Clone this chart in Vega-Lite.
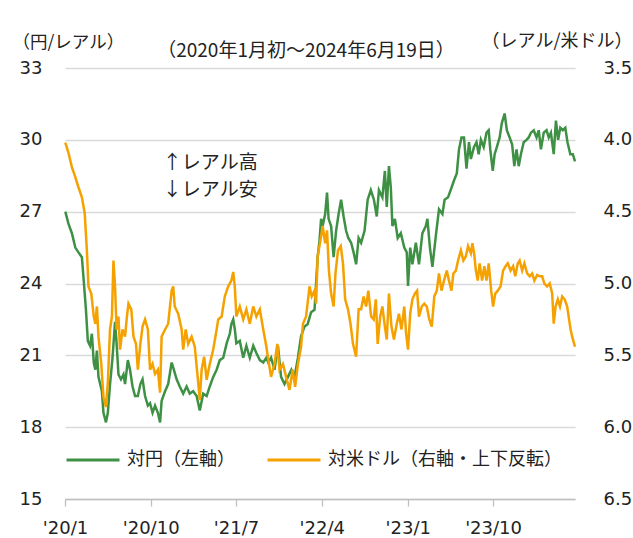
{
"$schema": "https://vega.github.io/schema/vega-lite/v6.json",
"width": 510, "height": 431,
"autosize": {"type": "none"},
"padding": {"left": 65, "top": 68, "right": 58, "bottom": 39},
"background": "white",
"config": {"view": {"stroke": null}, "font": "DejaVu Sans", "axis": {"labelFont": "DejaVu Sans", "labelColor": "#222222", "titleFont": "Noto Sans CJK JP", "titleFontWeight": "normal", "titleColor": "#222222"}},
"title": {"text": "（2020年1月初～2024年6月19日）", "font": "Noto Sans CJK JP", "fontSize": 19, "fontWeight": "normal", "color": "#222222", "anchor": "middle", "frame": "group", "dx": -14, "dy": 36, "offset": 7},
"datasets": {
"jpy": [
{"d":"2020-01-02","v":27.0},{"d":"2020-01-12","v":26.5},{"d":"2020-01-23","v":26.1},{"d":"2020-02-03","v":25.5},{"d":"2020-02-13","v":25.3},{"d":"2020-02-24","v":25.1},{"d":"2020-03-01","v":24.1},{"d":"2020-03-08","v":22.9},{"d":"2020-03-14","v":21.6},{"d":"2020-03-21","v":21.4},{"d":"2020-03-27","v":21.9},{"d":"2020-04-02","v":20.7},{"d":"2020-04-07","v":20.4},{"d":"2020-04-12","v":21.2},{"d":"2020-04-17","v":20.1},{"d":"2020-04-28","v":19.5},{"d":"2020-05-03","v":18.6},{"d":"2020-05-11","v":18.2},{"d":"2020-05-17","v":18.6},{"d":"2020-05-24","v":19.8},{"d":"2020-06-01","v":20.9},{"d":"2020-06-09","v":22.4},{"d":"2020-06-14","v":21.5},{"d":"2020-06-20","v":20.2},{"d":"2020-06-28","v":20.0},{"d":"2020-07-06","v":20.2},{"d":"2020-07-11","v":19.8},{"d":"2020-07-20","v":20.8},{"d":"2020-07-27","v":20.4},{"d":"2020-08-04","v":19.7},{"d":"2020-08-12","v":19.3},{"d":"2020-08-21","v":19.3},{"d":"2020-08-29","v":19.8},{"d":"2020-09-05","v":20.0},{"d":"2020-09-13","v":19.3},{"d":"2020-09-22","v":18.9},{"d":"2020-09-29","v":19.0},{"d":"2020-10-07","v":18.6},{"d":"2020-10-15","v":18.9},{"d":"2020-10-24","v":18.6},{"d":"2020-10-31","v":18.2},{"d":"2020-11-05","v":19.1},{"d":"2020-11-16","v":19.5},{"d":"2020-11-26","v":19.8},{"d":"2020-12-07","v":20.7},{"d":"2020-12-12","v":20.5},{"d":"2020-12-23","v":20.0},{"d":"2021-01-02","v":19.7},{"d":"2021-01-13","v":19.4},{"d":"2021-01-24","v":19.7},{"d":"2021-02-03","v":19.4},{"d":"2021-02-14","v":19.5},{"d":"2021-02-25","v":19.3},{"d":"2021-03-07","v":18.7},{"d":"2021-03-18","v":19.4},{"d":"2021-03-29","v":19.3},{"d":"2021-04-08","v":19.7},{"d":"2021-04-19","v":20.1},{"d":"2021-04-30","v":20.4},{"d":"2021-05-10","v":20.8},{"d":"2021-05-21","v":20.9},{"d":"2021-06-01","v":21.5},{"d":"2021-06-11","v":21.9},{"d":"2021-06-16","v":22.3},{"d":"2021-06-22","v":22.5},{"d":"2021-06-27","v":22.1},{"d":"2021-07-02","v":21.5},{"d":"2021-07-13","v":21.6},{"d":"2021-07-24","v":20.9},{"d":"2021-08-03","v":21.4},{"d":"2021-08-14","v":20.9},{"d":"2021-08-25","v":21.4},{"d":"2021-09-04","v":21.1},{"d":"2021-09-15","v":20.8},{"d":"2021-09-26","v":20.7},{"d":"2021-10-06","v":20.9},{"d":"2021-10-12","v":20.7},{"d":"2021-10-21","v":20.9},{"d":"2021-11-01","v":20.4},{"d":"2021-11-12","v":21.4},{"d":"2021-11-22","v":20.1},{"d":"2021-12-03","v":19.8},{"d":"2021-12-14","v":20.1},{"d":"2021-12-25","v":20.4},{"d":"2022-01-04","v":20.1},{"d":"2022-01-15","v":20.9},{"d":"2022-01-25","v":21.8},{"d":"2022-02-05","v":22.2},{"d":"2022-02-15","v":22.3},{"d":"2022-02-26","v":22.8},{"d":"2022-03-09","v":22.9},{"d":"2022-03-14","v":24.0},{"d":"2022-03-19","v":25.1},{"d":"2022-03-25","v":25.8},{"d":"2022-03-30","v":26.7},{"d":"2022-04-04","v":26.4},{"d":"2022-04-12","v":26.9},{"d":"2022-04-18","v":27.8},{"d":"2022-04-23","v":26.7},{"d":"2022-05-01","v":26.4},{"d":"2022-05-09","v":25.1},{"d":"2022-05-17","v":26.2},{"d":"2022-05-25","v":26.9},{"d":"2022-06-02","v":27.5},{"d":"2022-06-10","v":26.8},{"d":"2022-06-18","v":26.2},{"d":"2022-06-25","v":25.9},{"d":"2022-07-04","v":25.7},{"d":"2022-07-12","v":25.3},{"d":"2022-07-20","v":24.8},{"d":"2022-07-28","v":25.9},{"d":"2022-08-05","v":25.7},{"d":"2022-08-16","v":26.2},{"d":"2022-08-26","v":27.5},{"d":"2022-09-05","v":27.9},{"d":"2022-09-15","v":27.5},{"d":"2022-09-24","v":26.8},{"d":"2022-10-01","v":27.9},{"d":"2022-10-12","v":27.6},{"d":"2022-10-20","v":28.7},{"d":"2022-10-26","v":27.2},{"d":"2022-11-02","v":28.9},{"d":"2022-11-08","v":28.0},{"d":"2022-11-13","v":26.4},{"d":"2022-11-21","v":26.7},{"d":"2022-11-30","v":25.9},{"d":"2022-12-10","v":26.1},{"d":"2022-12-21","v":25.5},{"d":"2022-12-29","v":25.3},{"d":"2023-01-02","v":23.9},{"d":"2023-01-09","v":25.5},{"d":"2023-01-16","v":24.8},{"d":"2023-01-27","v":25.7},{"d":"2023-02-06","v":24.8},{"d":"2023-02-17","v":26.1},{"d":"2023-02-28","v":26.4},{"d":"2023-03-05","v":26.7},{"d":"2023-03-13","v":25.5},{"d":"2023-03-21","v":24.7},{"d":"2023-04-01","v":26.0},{"d":"2023-04-11","v":27.1},{"d":"2023-04-22","v":26.9},{"d":"2023-04-29","v":27.5},{"d":"2023-05-10","v":27.6},{"d":"2023-05-21","v":28.0},{"d":"2023-05-29","v":28.3},{"d":"2023-06-07","v":28.6},{"d":"2023-06-14","v":29.6},{"d":"2023-06-22","v":30.1},{"d":"2023-06-30","v":30.1},{"d":"2023-07-08","v":28.8},{"d":"2023-07-16","v":29.9},{"d":"2023-07-22","v":29.2},{"d":"2023-08-01","v":29.7},{"d":"2023-08-09","v":29.9},{"d":"2023-08-16","v":29.4},{"d":"2023-08-23","v":30.0},{"d":"2023-09-01","v":29.7},{"d":"2023-09-10","v":30.3},{"d":"2023-09-17","v":30.4},{"d":"2023-09-22","v":29.6},{"d":"2023-09-30","v":28.7},{"d":"2023-10-06","v":29.4},{"d":"2023-10-13","v":29.7},{"d":"2023-10-22","v":30.1},{"d":"2023-10-29","v":30.7},{"d":"2023-11-07","v":31.1},{"d":"2023-11-14","v":30.4},{"d":"2023-11-23","v":30.1},{"d":"2023-12-01","v":29.8},{"d":"2023-12-08","v":28.9},{"d":"2023-12-15","v":29.6},{"d":"2023-12-22","v":28.9},{"d":"2023-12-29","v":29.4},{"d":"2024-01-07","v":29.9},{"d":"2024-01-16","v":30.0},{"d":"2024-01-23","v":30.1},{"d":"2024-01-30","v":30.3},{"d":"2024-02-08","v":30.4},{"d":"2024-02-17","v":30.1},{"d":"2024-02-24","v":30.4},{"d":"2024-03-02","v":29.6},{"d":"2024-03-11","v":30.3},{"d":"2024-03-20","v":30.4},{"d":"2024-03-27","v":30.1},{"d":"2024-04-03","v":30.3},{"d":"2024-04-12","v":29.4},{"d":"2024-04-19","v":30.8},{"d":"2024-04-26","v":30.0},{"d":"2024-05-03","v":30.5},{"d":"2024-05-11","v":30.4},{"d":"2024-05-19","v":30.5},{"d":"2024-05-26","v":29.9},{"d":"2024-06-04","v":29.4},{"d":"2024-06-12","v":29.4},{"d":"2024-06-19","v":29.1}
],
"usd": [
{"d":"2020-01-02","v":4.02},{"d":"2020-01-12","v":4.09},{"d":"2020-01-23","v":4.19},{"d":"2020-02-03","v":4.26},{"d":"2020-02-13","v":4.33},{"d":"2020-02-24","v":4.40},{"d":"2020-03-04","v":4.51},{"d":"2020-03-11","v":4.77},{"d":"2020-03-16","v":5.02},{"d":"2020-03-25","v":5.07},{"d":"2020-04-02","v":5.23},{"d":"2020-04-07","v":5.28},{"d":"2020-04-12","v":5.16},{"d":"2020-04-17","v":5.37},{"d":"2020-04-26","v":5.56},{"d":"2020-05-03","v":5.79},{"d":"2020-05-11","v":5.86},{"d":"2020-05-17","v":5.69},{"d":"2020-05-24","v":5.32},{"d":"2020-05-30","v":5.23},{"d":"2020-06-04","v":4.84},{"d":"2020-06-09","v":5.02},{"d":"2020-06-14","v":5.32},{"d":"2020-06-20","v":5.23},{"d":"2020-06-25","v":5.46},{"d":"2020-07-03","v":5.32},{"d":"2020-07-11","v":5.37},{"d":"2020-07-17","v":5.23},{"d":"2020-07-22","v":5.14},{"d":"2020-07-31","v":5.18},{"d":"2020-08-07","v":5.37},{"d":"2020-08-15","v":5.42},{"d":"2020-08-21","v":5.60},{"d":"2020-08-29","v":5.42},{"d":"2020-09-05","v":5.30},{"d":"2020-09-13","v":5.25},{"d":"2020-09-22","v":5.32},{"d":"2020-09-29","v":5.60},{"d":"2020-10-07","v":5.56},{"d":"2020-10-15","v":5.63},{"d":"2020-10-24","v":5.60},{"d":"2020-10-31","v":5.76},{"d":"2020-11-05","v":5.37},{"d":"2020-11-16","v":5.32},{"d":"2020-11-26","v":5.28},{"d":"2020-12-07","v":5.05},{"d":"2020-12-12","v":5.02},{"d":"2020-12-17","v":5.16},{"d":"2020-12-28","v":5.21},{"d":"2021-01-08","v":5.32},{"d":"2021-01-13","v":5.46},{"d":"2021-01-21","v":5.32},{"d":"2021-01-29","v":5.42},{"d":"2021-02-09","v":5.37},{"d":"2021-02-19","v":5.44},{"d":"2021-03-02","v":5.69},{"d":"2021-03-07","v":5.81},{"d":"2021-03-13","v":5.60},{"d":"2021-03-21","v":5.51},{"d":"2021-03-29","v":5.67},{"d":"2021-04-08","v":5.56},{"d":"2021-04-19","v":5.46},{"d":"2021-04-30","v":5.32},{"d":"2021-05-05","v":5.25},{"d":"2021-05-16","v":5.23},{"d":"2021-05-26","v":5.09},{"d":"2021-06-06","v":5.02},{"d":"2021-06-16","v":4.98},{"d":"2021-06-22","v":4.92},{"d":"2021-06-27","v":5.02},{"d":"2021-07-02","v":5.23},{"d":"2021-07-13","v":5.16},{"d":"2021-07-24","v":5.25},{"d":"2021-08-03","v":5.18},{"d":"2021-08-14","v":5.28},{"d":"2021-08-25","v":5.16},{"d":"2021-09-04","v":5.23},{"d":"2021-09-15","v":5.18},{"d":"2021-09-26","v":5.32},{"d":"2021-10-06","v":5.44},{"d":"2021-10-10","v":5.50},{"d":"2021-10-21","v":5.65},{"d":"2021-11-01","v":5.56},{"d":"2021-11-10","v":5.42},{"d":"2021-11-17","v":5.60},{"d":"2021-11-28","v":5.56},{"d":"2021-12-08","v":5.65},{"d":"2021-12-19","v":5.74},{"d":"2021-12-29","v":5.60},{"d":"2022-01-06","v":5.72},{"d":"2022-01-15","v":5.56},{"d":"2022-01-25","v":5.44},{"d":"2022-01-31","v":5.28},{"d":"2022-02-10","v":5.23},{"d":"2022-02-21","v":5.02},{"d":"2022-02-28","v":5.09},{"d":"2022-03-09","v":5.05},{"d":"2022-03-14","v":5.14},{"d":"2022-03-19","v":4.81},{"d":"2022-03-28","v":4.70},{"d":"2022-04-04","v":4.60},{"d":"2022-04-12","v":4.72},{"d":"2022-04-18","v":4.63},{"d":"2022-04-24","v":4.91},{"d":"2022-05-01","v":5.07},{"d":"2022-05-09","v":5.16},{"d":"2022-05-15","v":4.93},{"d":"2022-05-23","v":4.77},{"d":"2022-06-01","v":4.74},{"d":"2022-06-08","v":4.86},{"d":"2022-06-15","v":5.11},{"d":"2022-06-24","v":5.18},{"d":"2022-07-02","v":5.28},{"d":"2022-07-10","v":5.42},{"d":"2022-07-20","v":5.51},{"d":"2022-07-28","v":5.18},{"d":"2022-08-05","v":5.18},{"d":"2022-08-13","v":5.09},{"d":"2022-08-21","v":5.16},{"d":"2022-08-28","v":5.05},{"d":"2022-09-06","v":5.23},{"d":"2022-09-14","v":5.25},{"d":"2022-09-21","v":5.11},{"d":"2022-09-27","v":5.42},{"d":"2022-10-05","v":5.23},{"d":"2022-10-12","v":5.16},{"d":"2022-10-20","v":5.30},{"d":"2022-10-26","v":5.39},{"d":"2022-11-02","v":5.07},{"d":"2022-11-10","v":5.30},{"d":"2022-11-18","v":5.39},{"d":"2022-11-27","v":5.28},{"d":"2022-12-04","v":5.21},{"d":"2022-12-12","v":5.32},{"d":"2022-12-21","v":5.16},{"d":"2022-12-27","v":5.35},{"d":"2023-01-02","v":5.46},{"d":"2023-01-09","v":5.21},{"d":"2023-01-16","v":5.11},{"d":"2023-01-24","v":5.07},{"d":"2023-01-31","v":5.05},{"d":"2023-02-06","v":5.23},{"d":"2023-02-15","v":5.16},{"d":"2023-02-23","v":5.14},{"d":"2023-03-03","v":5.16},{"d":"2023-03-11","v":5.25},{"d":"2023-03-19","v":5.30},{"d":"2023-03-27","v":5.09},{"d":"2023-04-04","v":5.05},{"d":"2023-04-11","v":4.93},{"d":"2023-04-19","v":5.05},{"d":"2023-04-27","v":4.98},{"d":"2023-05-06","v":4.91},{"d":"2023-05-13","v":4.98},{"d":"2023-05-21","v":5.05},{"d":"2023-05-27","v":4.93},{"d":"2023-06-04","v":4.91},{"d":"2023-06-11","v":4.84},{"d":"2023-06-20","v":4.77},{"d":"2023-06-28","v":4.84},{"d":"2023-07-06","v":4.81},{"d":"2023-07-13","v":4.74},{"d":"2023-07-22","v":4.79},{"d":"2023-07-27","v":4.72},{"d":"2023-08-02","v":4.80},{"d":"2023-08-07","v":4.91},{"d":"2023-08-13","v":4.98},{"d":"2023-08-19","v":4.86},{"d":"2023-08-27","v":4.98},{"d":"2023-09-03","v":4.88},{"d":"2023-09-10","v":4.98},{"d":"2023-09-17","v":4.86},{"d":"2023-09-25","v":5.05},{"d":"2023-10-01","v":5.16},{"d":"2023-10-08","v":5.07},{"d":"2023-10-16","v":5.05},{"d":"2023-10-25","v":5.02},{"d":"2023-11-02","v":4.91},{"d":"2023-11-10","v":4.88},{"d":"2023-11-17","v":4.86},{"d":"2023-11-26","v":4.91},{"d":"2023-12-04","v":4.88},{"d":"2023-12-11","v":4.95},{"d":"2023-12-19","v":4.86},{"d":"2023-12-25","v":4.84},{"d":"2024-01-02","v":4.91},{"d":"2024-01-09","v":4.86},{"d":"2024-01-18","v":4.93},{"d":"2024-01-26","v":4.95},{"d":"2024-02-03","v":4.93},{"d":"2024-02-10","v":4.98},{"d":"2024-02-19","v":4.94},{"d":"2024-02-27","v":4.95},{"d":"2024-03-06","v":4.95},{"d":"2024-03-13","v":5.00},{"d":"2024-03-22","v":5.02},{"d":"2024-03-30","v":5.00},{"d":"2024-04-07","v":5.07},{"d":"2024-04-12","v":5.28},{"d":"2024-04-18","v":5.16},{"d":"2024-04-25","v":5.11},{"d":"2024-05-02","v":5.16},{"d":"2024-05-09","v":5.09},{"d":"2024-05-17","v":5.11},{"d":"2024-05-25","v":5.16},{"d":"2024-05-31","v":5.25},{"d":"2024-06-05","v":5.32},{"d":"2024-06-10","v":5.37},{"d":"2024-06-19","v":5.44}
],
"note": [
{"d":"2020-11-09","v":29.05,"t":"↑レアル高"},
{"d":"2020-11-09","v":27.9,"t":"↓レアル安"}
]
},
"layer": [
{
"data": {"name": "jpy"},
"mark": {"type": "line", "strokeWidth": 2.5},
"encoding": {
"x": {"field": "d", "type": "temporal", "scale": {"type": "utc", "domain": [{"year": 2020, "month": 1, "date": 1, "utc": true}, {"year": 2024, "month": 6, "date": 19, "utc": true}]},
"axis": {"title": null, "values": [{"year": 2020, "month": 1, "date": 1, "utc": true}, {"year": 2020, "month": 10, "date": 1, "utc": true}, {"year": 2021, "month": 7, "date": 1, "utc": true}, {"year": 2022, "month": 4, "date": 1, "utc": true}, {"year": 2023, "month": 1, "date": 1, "utc": true}, {"year": 2023, "month": 10, "date": 1, "utc": true}],
"labelExpr": "\"'\" + utcFormat(datum.value, '%y') + '/' + (utcmonth(datum.value) + 1)",
"grid": false, "domainColor": "#bfbfbf", "domainWidth": 1.3, "tickColor": "#bfbfbf", "tickWidth": 1.3, "tickSize": 7, "labelFontSize": 18, "labelPadding": 13, "labelFlush": false, "labelOverlap": false}},
"y": {"field": "v", "type": "quantitative", "scale": {"domain": [15, 33], "nice": false, "zero": false},
"axis": {"values": [15, 18, 21, 24, 27, 30, 33], "grid": true, "gridColor": "#d9d9d9", "gridWidth": 1.3, "domain": false, "ticks": false, "labelFontSize": 18, "labelPadding": 23,
"title": "（円/レアル）", "titleAngle": 0, "titleAlign": "left", "titleBaseline": "middle", "titleX": -53, "titleY": -26, "titleFontSize": 17.5}},
"color": {"datum": "対円（左軸）", "type": "nominal",
"scale": {"domain": ["対円（左軸）", "対米ドル（右軸・上下反転）"], "range": ["#3e9144", "#f5a100"]},
"legend": {"orient": "none", "legendX": 0, "legendY": 364, "direction": "horizontal", "title": null, "symbolType": "stroke", "symbolSize": 2809, "symbolStrokeWidth": 3, "labelFontSize": 18, "labelFont": "Noto Sans CJK JP", "labelColor": "#222222", "labelOffset": 6, "columnPadding": 26, "labelLimit": 400}}
}
},
{
"data": {"name": "usd"},
"mark": {"type": "line", "strokeWidth": 2.5},
"encoding": {
"x": {"field": "d", "type": "temporal"},
"y": {"field": "v", "type": "quantitative", "scale": {"domain": [3.5, 6.5], "nice": false, "zero": false, "reverse": true},
"axis": {"orient": "right", "values": [3.5, 4, 4.5, 5, 5.5, 6, 6.5], "format": ".1f", "grid": false, "domain": false, "ticks": false, "labelFontSize": 18, "labelPadding": 28,
"title": "（レアル/米ドル）", "titleAngle": 0, "titleAlign": "right", "titleBaseline": "middle", "titleX": 57, "titleY": -27, "titleFontSize": 18}},
"color": {"datum": "対米ドル（右軸・上下反転）", "type": "nominal"}
}
},
{
"data": {"name": "note"},
"mark": {"type": "text", "align": "left", "baseline": "middle", "fontSize": 19, "font": "Noto Sans CJK JP", "color": "#222222"},
"encoding": {
"x": {"field": "d", "type": "temporal"},
"y": {"field": "v", "type": "quantitative", "scale": {"domain": [15, 33], "nice": false, "zero": false}, "axis": null},
"text": {"field": "t"}
}
}
],
"resolve": {"scale": {"y": "independent"}}
}
